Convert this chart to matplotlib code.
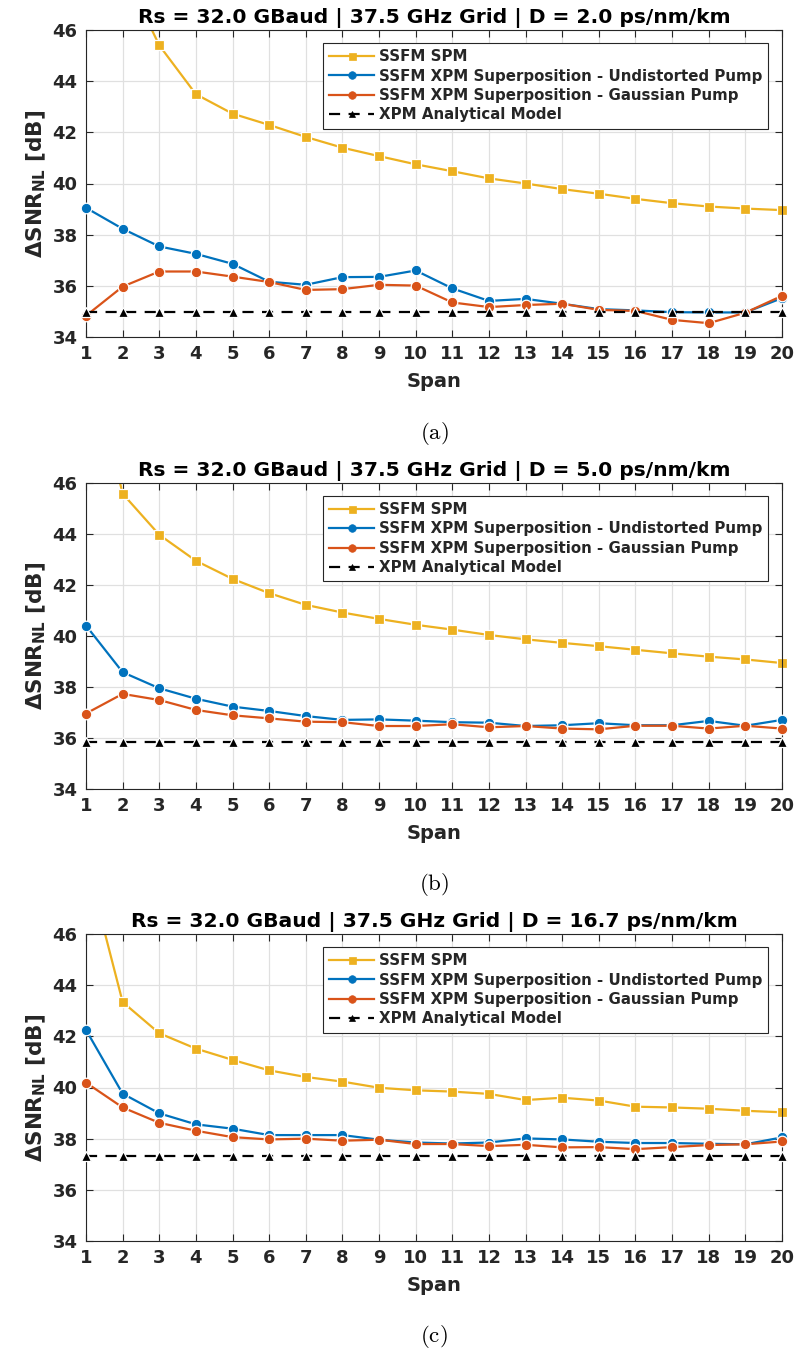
import numpy as np
import matplotlib
matplotlib.use("Agg")
import matplotlib.pyplot as plt
from matplotlib.lines import Line2D

plt.rcParams["font.family"] = ["DejaVu Sans"]
plt.rcParams["font.weight"] = "bold"
plt.rcParams["mathtext.fontset"] = "custom"
plt.rcParams["mathtext.bf"] = "DejaVu Sans:bold"
plt.rcParams["mathtext.rm"] = "DejaVu Sans:bold"

# ---- data -------------------------------------------------------------
spans = np.arange(1, 21)
dispersions = ["2.0", "5.0", "16.7"]
captions = ["(a)", "(b)", "(c)"]
series_labels = [
    "SSFM SPM",
    "SSFM XPM Superposition - Undistorted Pump",
    "SSFM XPM Superposition - Gaussian Pump",
    "XPM Analytical Model",
]

spm_a = [52.0, 48.4, 45.4, 43.49, 42.73, 42.29, 41.82, 41.40, 41.07, 40.75,
         40.48, 40.20, 40.00, 39.78, 39.60, 39.40, 39.23, 39.10, 39.02, 38.96]
undist_a = [39.05, 38.23, 37.54, 37.25, 36.86, 36.16, 36.04, 36.34, 36.35, 36.60,
            35.90, 35.41, 35.49, 35.30, 35.09, 35.04, 34.97, 34.96, 34.96, 35.52]
gauss_a = [34.83, 35.97, 36.56, 36.56, 36.36, 36.15, 35.84, 35.87, 36.04, 36.01,
           35.35, 35.17, 35.25, 35.30, 35.06, 35.02, 34.67, 34.54, 34.95, 35.61]
xpm_a = [34.96] * 20

spm_b = [51.5, 45.58, 43.97, 42.95, 42.24, 41.68, 41.22, 40.92, 40.67, 40.44,
         40.25, 40.04, 39.87, 39.73, 39.60, 39.46, 39.32, 39.19, 39.08, 38.94]
undist_b = [40.41, 38.58, 37.95, 37.54, 37.23, 37.06, 36.86, 36.71, 36.73, 36.68,
            36.62, 36.60, 36.47, 36.50, 36.58, 36.50, 36.50, 36.67, 36.48, 36.71]
gauss_b = [36.96, 37.73, 37.49, 37.10, 36.89, 36.77, 36.64, 36.62, 36.47, 36.47,
           36.54, 36.42, 36.47, 36.37, 36.34, 36.48, 36.48, 36.37, 36.48, 36.37]
xpm_b = [35.86] * 20

spm_c = [48.9, 43.34, 42.12, 41.52, 41.08, 40.67, 40.41, 40.23, 39.99, 39.89,
         39.84, 39.75, 39.51, 39.60, 39.49, 39.25, 39.22, 39.17, 39.09, 39.03]
undist_c = [42.25, 39.76, 38.99, 38.56, 38.39, 38.14, 38.14, 38.14, 37.96, 37.85,
            37.81, 37.85, 38.01, 37.97, 37.88, 37.83, 37.83, 37.80, 37.78, 38.05]
gauss_c = [40.19, 39.22, 38.62, 38.31, 38.06, 37.97, 38.00, 37.92, 37.96, 37.79,
           37.79, 37.71, 37.76, 37.66, 37.67, 37.59, 37.67, 37.75, 37.78, 37.89]
xpm_c = [37.33] * 20

panels = [
    (spm_a, undist_a, gauss_a, xpm_a),
    (spm_b, undist_b, gauss_b, xpm_b),
    (spm_c, undist_c, gauss_c, xpm_c),
]

# ---- styling ----------------------------------------------------------
C_YELLOW = "#EDB120"
C_BLUE = "#0072BD"
C_ORANGE = "#D95319"
C_AXES = "#262626"
YMIN, YMAX = 34, 46
XPM_DASH = (0, (5.0, 3.8))

fig = plt.figure(figsize=(7.96, 13.54), dpi=100)
W, H = 796.0, 1354.0
ax_left, ax_right = 86, 782
tops = [30, 483, 934]
bottoms = [337, 789, 1241]

styles = [
    dict(color=C_YELLOW, marker="s", ms=7.0, ls="-", z=2),
    dict(color=C_BLUE, marker="o", ms=7.6, ls="-", z=3),
    dict(color=C_ORANGE, marker="o", ms=7.6, ls="-", z=4),
    dict(color="black", marker="^", ms=6.5, ls=XPM_DASH, z=5),
]


def draw_series(ax, y, st, lw=1.6):
    y = np.asarray(y, dtype=float)
    ax.plot(spans, y, color=st["color"], lw=lw, ls=st["ls"],
            zorder=st["z"], clip_on=True)
    yv = np.where(y <= YMAX, y, np.nan)
    ax.plot(spans, yv, ls="none", marker=st["marker"], ms=st["ms"],
            mfc=st["color"], mec="white", mew=0.9, zorder=st["z"] + 0.5,
            clip_on=False)


legend_handles = [
    Line2D([], [], color=st["color"], lw=1.6, ls=st["ls"], marker=st["marker"],
           ms=st["ms"] * 0.72, mfc=st["color"], mec=st["color"], mew=0.5)
    for st in styles
]

for i, series in enumerate(panels):
    ax = fig.add_axes([ax_left / W, 1 - bottoms[i] / H,
                       (ax_right - ax_left) / W, (bottoms[i] - tops[i]) / H])
    for y, st in zip(series, styles):
        draw_series(ax, y, st)

    ax.set_xlim(1, 20)
    ax.set_ylim(YMIN, YMAX)
    ax.set_xticks(spans)
    ax.set_yticks(np.arange(34, 47, 2))
    ax.tick_params(direction="in", top=True, right=True, length=5,
                   width=0.8, color=C_AXES, labelcolor=C_AXES,
                   labelsize=13, pad=6)
    for lbl in ax.get_xticklabels() + ax.get_yticklabels():
        lbl.set_fontweight("bold")
    ax.grid(True, color="#e0e0e0", lw=0.9, zorder=0)
    ax.set_axisbelow(True)
    for sp in ax.spines.values():
        sp.set_color(C_AXES)
        sp.set_linewidth(0.8)

    ax.set_title(f"Rs = 32.0 GBaud | 37.5 GHz Grid | D = {dispersions[i]} ps/nm/km",
                 fontsize=14.6, fontweight="bold", pad=5)
    ax.set_xlabel("Span", fontsize=14, fontweight="bold", labelpad=6,
                  color=C_AXES)
    ax.set_ylabel(r"ΔSNR$_{\mathbf{NL}}$ [dB]", fontsize=15.5,
                  fontweight="bold", labelpad=3, color=C_AXES)

    leg = ax.legend(legend_handles, series_labels, loc="upper right",
                    bbox_to_anchor=(1 - 14 / 696, 1 - 13 / 307),
                    borderaxespad=0, fontsize=10.8, frameon=True,
                    fancybox=False, edgecolor=C_AXES, framealpha=1,
                    handlelength=3.0, handletextpad=0.3, labelspacing=0.3,
                    borderpad=0.4)
    leg.get_frame().set_linewidth(0.8)
    for t in leg.get_texts():
        t.set_fontweight("bold")
        t.set_color(C_AXES)

    cap_y = 1 - (bottoms[i] + 96) / H
    fig.text(0.5 * (ax_left + ax_right) / W, cap_y,
             r"$\mathrm{" + captions[i] + "}$",
             ha="center", va="center", fontsize=16.5, math_fontfamily="cm")

fig.savefig("out.png", dpi=100)
